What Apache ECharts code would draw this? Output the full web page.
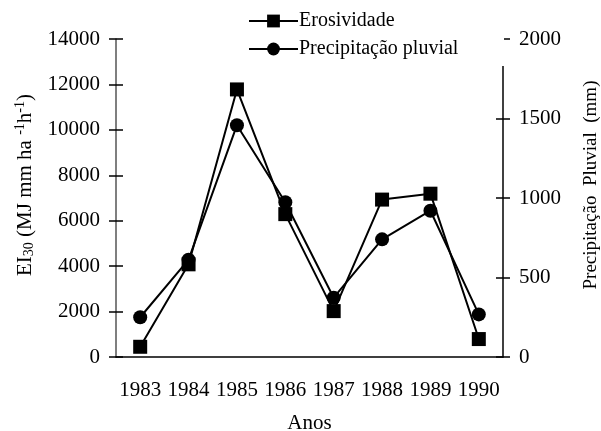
<!DOCTYPE html>
<html>
<head>
<meta charset="utf-8">
<script src="https://cdn.jsdelivr.net/npm/echarts@6/dist/echarts.min.js"></script>
<style>html,body{margin:0;padding:0;background:#fff;overflow:hidden;}#c{width:601px;height:431px;}</style>
</head>
<body>
<div id="c"></div>
<script>
var years = ['1983','1984','1985','1986','1987','1988','1989','1990'];
var erosividade = [450, 4080, 11780, 6290, 2020, 6930, 7190, 790];
var precipitacao = [250, 612, 1458, 973, 373, 740, 920, 268];
var leftTicks = {min: 0, max: 14000, interval: 2000};
var rightTicks = {min: 0, max: 2000, interval: 500};

var FONT = '"Liberation Serif", "Times New Roman", serif';
var chart = echarts.init(document.getElementById('c'), null, {width: 601, height: 431});
var lbl = {fontFamily: FONT, fontSize: 21, color: '#000', formatter: function (v) { return String(v); }};
chart.setOption({
  animation: false,
  backgroundColor: '#fff',
  textStyle: {fontFamily: FONT},
  grid: {left: 116, right: 98, top: 39, bottom: 74, containLabel: false, outerBoundsMode: 'none'},
  legend: {
    orient: 'vertical', left: 243, top: 6, itemWidth: 49, itemHeight: 16, itemGap: 8,
    textStyle: {fontFamily: FONT, fontSize: 20, color: '#000', padding: [0, 0, 0, -4]},
    data: ['Erosividade', 'Precipitação pluvial']
  },
  graphic: [{
    type: 'rect', shape: {x: 496, y: 32, width: 8, height: 34},
    style: {fill: '#fff'}, z: 100, silent: true
  }],
  xAxis: {
    type: 'category', data: years, boundaryGap: true,
    name: 'Anos', nameLocation: 'middle', nameGap: 56,
    nameTextStyle: {fontFamily: FONT, fontSize: 21, color: '#000'},
    axisLine: {lineStyle: {color: '#000', width: 1.5}},
    axisTick: {inside: true, length: 7, lineStyle: {color: '#000', width: 1.5}},
    axisLabel: {fontFamily: FONT, fontSize: 21, color: '#000', margin: 23, interval: 0},
    splitLine: {show: false}
  },
  yAxis: [
    {
      type: 'value', position: 'left', min: leftTicks.min, max: leftTicks.max, interval: leftTicks.interval,
      name: 'EI{sub|30} (MJ mm ha {sup|-1}h{sup|-1})', nameLocation: 'middle', nameGap: 73, nameRotate: 90,
      nameTextStyle: {fontFamily: FONT, fontSize: 21, color: '#000', padding: [0, 0, 0, 26],
        rich: {sub: {fontFamily: FONT, fontSize: 14, verticalAlign: 'bottom', padding: [9,0,0,0]},
               sup: {fontFamily: FONT, fontSize: 14, verticalAlign: 'top', padding: [0,0,9,0]}}},
      axisLine: {show: true, lineStyle: {color: '#555', width: 1.5}},
      axisTick: {show: true, length: 7, lineStyle: {color: '#000', width: 1.5}},
      axisLabel: Object.assign({margin: 16}, lbl),
      splitLine: {show: false}
    },
    {
      type: 'value', position: 'right', min: rightTicks.min, max: rightTicks.max, interval: rightTicks.interval,
      name: 'Precipitação  Pluvial  (mm)', nameLocation: 'middle', nameGap: 79, nameRotate: 90,
      nameTextStyle: {fontFamily: FONT, fontSize: 19, color: '#000', padding: [0, 0, 0, 26]},
      axisLine: {show: true, lineStyle: {color: '#000', width: 1.5}},
      axisTick: {show: true, length: 7, lineStyle: {color: '#000', width: 1.5}},
      axisLabel: Object.assign({margin: 16}, lbl),
      splitLine: {show: false}
    },
    {
      type: 'value', position: 'left', min: leftTicks.min, max: leftTicks.max, interval: leftTicks.interval,
      axisLine: {show: false}, axisLabel: {show: false}, splitLine: {show: false},
      axisTick: {show: true, inside: true, length: 7, lineStyle: {color: '#000', width: 1.5}}
    },
    {
      type: 'value', position: 'right', min: rightTicks.min, max: rightTicks.max, interval: rightTicks.interval,
      axisLine: {show: false}, axisLabel: {show: false}, splitLine: {show: false},
      axisTick: {show: true, inside: true, length: 7, lineStyle: {color: '#000', width: 1.5}}
    }
  ],
  series: [
    {
      name: 'Erosividade', type: 'line', yAxisIndex: 0, data: erosividade,
      symbol: 'rect', symbolSize: 14, showAllSymbol: true,
      lineStyle: {color: '#000', width: 2}, itemStyle: {color: '#000'}, z: 3
    },
    {
      name: 'Precipitação pluvial', type: 'line', yAxisIndex: 1, data: precipitacao,
      symbol: 'circle', symbolSize: 14, showAllSymbol: true,
      lineStyle: {color: '#000', width: 2}, itemStyle: {color: '#000'}, z: 4
    }
  ]
});
</script>
</body>
</html>
